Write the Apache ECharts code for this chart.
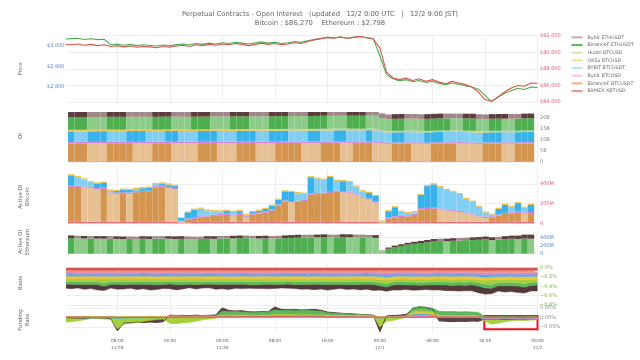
<!DOCTYPE html>
<html><head><meta charset="utf-8">
<script src="https://cdn.jsdelivr.net/npm/echarts@6/dist/echarts.min.js"></script>
<style>html,body{margin:0;padding:0;background:#fff}#c{width:640px;height:360px}</style>
</head><body><div id="c"></div>
<script>
// ---------------- DATA ----------------
const titleLine1 = 'Perpetual Contracts - Open Interest   (updated   12/2 0:00 UTC   |   12/2 9:00 JST)';
const titleLine2 = 'Bitcoin : $86,270    Ethereum : $2,798';
const exchanges = ['Bybit ETHUSDT','BinanceF ETHUSDT','Huobi BTCUSD','OKEx BTCUSD','BYBIT BTCUSDT','Bybit BTCUSD','BinanceF BTCUSDT','BitMEX XBTUSD'];
// time axis: hours since 11/29 00:00 UTC
const startTime = Date.UTC(2025, 10, 29, 0, 0);
const timeTicks = [8,16,24,32,40,48,56,64,72];
const timeTickLabels = ['08:00\n11/29','16:00','00:00\n11/30','08:00','16:00','00:00\n12/1','08:00','16:00','00:00\n12/2'];
const axisStartHour = 0.35, axisEndHour = 72;

// Price (hourly, 73 points)
const ethPrice = [3032,3034,3036,3030,3033,3029,3031,3004,3008,3002,3006,3000,3004,
 3001,2998,3003,2999,3005,3008,3004,3010,3006,3012,3008,3014,
 3010,3016,3012,3008,3014,3018,3012,3016,3010,3014,3020,3016,
 3024,3030,3034,3040,3038,3042,3036,3040,3044,3038,3034,
 2950,2860,2840,
 2830,2836,2826,2832,2822,2828,2818,2812,2820,2814,
 2806,2800,2790,2760,2730,
 2752,2770,2782,2794,2788,2800,2798];
const btcPrice = [90950,90900,91000,90850,90950,90800,90900,90700,90800,90650,90750,90600,90700,
 90650,90550,90700,90600,90750,90850,90700,90900,90800,90950,90850,91000,
 90900,91050,90950,90800,90950,91100,90950,91050,90900,91000,91150,91050,
 91300,91500,91650,91800,91700,91850,91700,91800,91900,91750,91600,
 90500,87600,86900,
 86700,86900,86600,86800,86500,86700,86400,86200,86500,86300,
 86100,85800,85200,84300,84100,
 84600,85200,85700,86000,85900,86300,86270];

// Open interest, billions USD (hourly bars, 72)
const oiBitmex = [0.30,0.31,0.30,0.29,0.30,0.31,0.32,0.31,0.30,0.30,0.31,0.32,0.31,0.30,0.29,0.30,0.31,0.30,0.31,0.32,0.31,0.30,0.31,0.30,
 0.31,0.32,0.31,0.30,0.31,0.32,0.33,0.32,0.31,0.32,0.33,0.32,0.31,0.32,0.33,0.34,0.33,0.32,0.33,0.34,0.33,0.32,0.33,0.32,
 0.30,0.28,0.29,0.28,0.29,0.30,0.29,0.28,0.29,0.30,0.29,0.30,0.31,0.30,0.29,0.27,0.28,0.29,0.28,0.29,0.30,0.29,0.30,0.29];
const oiBinanceBtc = [8.10,8.12,8.15,8.14,8.12,8.11,8.13,8.16,8.18,8.19,8.17,8.15,8.14,8.16,8.19,8.21,8.20,8.18,8.17,8.16,8.19,8.22,8.24,8.23,
 8.21,8.20,8.22,8.25,8.27,8.26,8.24,8.23,8.25,8.28,8.30,8.32,8.31,8.29,8.27,8.30,8.33,8.35,8.34,8.32,8.34,8.37,8.39,8.36,
 8.05,7.92,7.94,7.97,7.99,7.98,7.95,7.93,7.96,7.99,8.02,8.04,8.03,8.01,7.98,7.90,7.93,7.96,7.99,7.98,7.96,7.99,8.02,8.05];
const oiBybitBtcusd = [0.65,0.66,0.65,0.64,0.65,0.66,0.67,0.66,0.65,0.64,0.65,0.66,0.65,0.66,0.67,0.66,0.65,0.64,0.65,0.66,0.65,0.64,0.65,0.66,
 0.66,0.67,0.66,0.65,0.66,0.67,0.68,0.67,0.66,0.67,0.68,0.67,0.66,0.67,0.68,0.69,0.68,0.67,0.68,0.69,0.68,0.67,0.68,0.67,
 0.62,0.60,0.61,0.60,0.61,0.62,0.61,0.60,0.61,0.62,0.61,0.62,0.63,0.62,0.61,0.59,0.60,0.61,0.60,0.61,0.62,0.61,0.62,0.61];
const oiBybitUsdt = [4.80,4.78,4.76,4.79,4.82,4.84,4.83,4.81,4.79,4.82,4.85,4.86,4.84,4.82,4.81,4.84,4.87,4.86,4.83,4.81,4.84,4.86,4.88,4.87,
 4.85,4.83,4.86,4.89,4.90,4.88,4.86,4.89,4.91,4.93,4.92,4.90,4.88,4.91,4.94,4.93,4.91,4.94,4.96,4.95,4.93,4.91,4.94,4.92,
 4.62,4.55,4.57,4.60,4.59,4.57,4.55,4.58,4.61,4.63,4.62,4.60,4.58,4.56,4.54,4.50,4.53,4.56,4.58,4.57,4.55,4.58,4.61,4.63];
const oiOkex = [0.55,0.56,0.55,0.54,0.55,0.56,0.57,0.56,0.55,0.54,0.55,0.56,0.55,0.56,0.57,0.56,0.55,0.54,0.55,0.56,0.55,0.54,0.55,0.56,
 0.56,0.57,0.56,0.55,0.56,0.57,0.58,0.57,0.56,0.57,0.58,0.57,0.56,0.57,0.58,0.59,0.58,0.57,0.58,0.59,0.58,0.57,0.58,0.57,
 0.52,0.50,0.51,0.50,0.51,0.52,0.51,0.50,0.51,0.52,0.51,0.52,0.53,0.52,0.51,0.49,0.50,0.51,0.50,0.51,0.52,0.51,0.52,0.51];
const oiHuobi = [0.15,0.15,0.16,0.15,0.14,0.15,0.15,0.16,0.15,0.15,0.14,0.15,0.16,0.15,0.15,0.14,0.15,0.16,0.15,0.15,0.14,0.15,0.15,0.16,
 0.15,0.16,0.15,0.15,0.16,0.15,0.16,0.16,0.15,0.16,0.16,0.15,0.16,0.16,0.17,0.16,0.16,0.17,0.16,0.16,0.17,0.16,0.16,0.17,
 0.14,0.13,0.14,0.13,0.14,0.14,0.13,0.14,0.14,0.13,0.14,0.14,0.15,0.14,0.14,0.13,0.14,0.14,0.13,0.14,0.14,0.13,0.14,0.14];
const oiBinanceEth = [5.70,5.73,5.75,5.74,5.71,5.69,5.72,5.75,5.77,5.76,5.73,5.71,5.70,5.73,5.76,5.78,5.77,5.74,5.72,5.75,5.78,5.80,5.79,5.76,
 5.74,5.77,5.80,5.82,5.81,5.78,5.76,5.79,5.82,5.84,5.83,5.80,5.78,5.81,5.84,5.87,5.86,5.84,5.82,5.85,5.88,5.90,5.89,5.86,
 5.52,5.40,5.43,5.46,5.45,5.43,5.41,5.44,5.47,5.50,5.52,5.51,5.49,5.53,5.57,5.55,5.42,5.45,5.48,5.47,5.45,5.48,5.51,5.53];
const oiBybitEth = [2.30,2.32,2.34,2.33,2.31,2.29,2.31,2.33,2.35,2.34,2.32,2.30,2.29,2.31,2.33,2.35,2.34,2.32,2.30,2.32,2.34,2.36,2.35,2.33,
 2.31,2.33,2.35,2.37,2.36,2.34,2.32,2.34,2.36,2.38,2.37,2.35,2.33,2.35,2.37,2.39,2.38,2.36,2.34,2.36,2.38,2.40,2.39,2.37,
 2.18,2.10,2.12,2.14,2.13,2.11,2.09,2.11,2.13,2.15,2.14,2.12,2.10,2.12,2.14,2.13,2.06,2.08,2.10,2.12,2.11,2.09,2.11,2.13];

// Active OI Bitcoin, millions USD (hourly bars, 72)
const actBitmex = [15,15,14,15,16,15,14,15,15,16,15,14,15,15,16,15,14,8,10,15,15,14,15,16,
 15,14,15,15,16,15,14,15,15,16,15,14,15,15,16,15,14,15,15,16,15,14,15,15,
 5,12,15,14,15,15,16,15,14,15,15,16,15,14,15,15,16,15,14,15,15,16,15,14];
const actBinanceBtc = [355,355,350,345,330,335,290,285,290,285,300,305,305,350,355,345,335,12,30,30,45,55,60,65,
 70,65,70,45,70,85,95,115,165,205,200,205,210,275,280,285,295,305,300,295,275,245,225,195,
 10,35,45,50,55,70,125,130,135,125,115,105,100,85,75,55,40,45,65,80,85,90,85,90];
const actBybitBtcusd = [12,12,11,12,13,12,11,12,12,13,12,11,12,12,13,12,11,5,8,12,12,11,12,13,
 12,11,12,12,13,12,11,12,12,13,12,11,12,12,13,12,11,12,12,13,12,11,12,12,
 4,10,12,11,12,12,13,12,11,12,12,13,12,11,12,12,13,12,11,12,12,13,12,11];
const actBybitUsdt = [106,86,71,46,46,51,16,16,26,26,21,26,31,21,21,21,21,30,64,81,76,51,36,26,
 31,26,26,11,16,16,26,36,46,91,91,76,61,166,146,131,151,101,101,96,71,56,56,56,
 7,66,91,41,21,16,136,221,236,216,196,186,171,136,116,86,41,16,56,81,56,86,46,71];
const actOkex = [12,13,12,11,12,12,13,12,11,12,12,13,12,11,12,13,12,5,8,12,11,12,12,13,
 12,12,13,12,11,12,12,13,12,11,12,12,13,12,11,12,12,13,12,11,12,12,13,12,
 4,11,12,12,13,12,11,12,12,13,12,11,12,12,13,12,11,12,12,13,12,11,12,12];

// Active OI Ethereum, millions USD (hourly bars, 72)
const actBinanceEth = [380,375,370,372,368,365,370,360,355,362,358,365,360,368,372,365,360,362,358,355,360,365,362,370,
 375,372,378,380,375,370,372,368,375,380,385,390,395,400,398,402,395,400,405,400,395,398,390,385,
 60,120,160,190,220,240,260,280,300,310,305,315,320,330,335,340,350,330,345,355,365,360,370,365];
const actBybitEth = [65,60,62,58,60,63,59,62,64,60,58,61,63,60,57,60,62,65,63,60,58,61,64,62,
 60,63,65,62,60,64,66,63,61,65,68,70,66,64,67,70,68,65,69,72,70,67,65,68,
 20,30,35,40,45,50,52,55,58,56,60,62,60,58,62,65,68,70,66,72,75,80,95,100];

// Basis, in 0.01% units (hourly, 73)
const basisBitmex = [-6.2,-6.0,-6.3,-6.1,-6.4,-6.2,-6.0,-6.3,-6.1,-6.2,
 -6.4,-6.1,-6.0,-6.2,-6.3,-6.1,-6.2,-6.0,-6.3,-6.2,
 -6.1,-6.4,-6.2,-6.0,-6.3,-6.1,-6.2,-6.0,-6.3,-6.1,
 -6.2,-6.4,-6.1,-6.0,-6.2,-6.3,-6.1,-6.2,-6.0,-6.3,
 -6.2,-6.1,-6.4,-6.2,-6.0,-6.3,-6.1,-6.2,-5.8,-6.5,
 -6.2,-6.0,-6.3,-6.1,-6.2,-6.4,-6.1,-6.0,-6.2,-6.3,
 -6.1,-6.2,-6.0,-6.3,-6.6,-6.4,-6.2,-6.3,-6.1,-6.2,
 -6.4,-6.1,-6.2];
const basisBinanceBtc = [-3.6,-3.5,-3.7,-3.6,-3.4,-3.6,-3.8,-3.5,-3.6,-3.7,
 -3.5,-3.6,-3.4,-3.6,-3.7,-3.5,-3.6,-3.8,-3.6,-3.5,
 -3.7,-3.6,-3.4,-3.6,-3.5,-3.7,-3.6,-3.5,-3.6,-3.8,
 -3.6,-3.5,-3.7,-3.6,-3.4,-3.6,-3.5,-3.7,-3.6,-3.5,
 -3.6,-3.8,-3.6,-3.5,-3.7,-3.6,-3.4,-3.6,-3.9,-4.2,
 -3.7,-3.6,-3.5,-3.7,-3.6,-3.8,-3.6,-3.5,-3.7,-3.6,
 -3.5,-3.7,-3.6,-3.8,-4.0,-3.9,-3.7,-3.8,-3.6,-3.9,
 -3.8,-3.7,-3.6];
const basisBybitBtcusd = [-4.3,-4.2,-4.4,-4.3,-4.1,-4.3,-4.5,-4.2,-4.3,-4.4,
 -4.2,-4.3,-4.1,-4.3,-4.4,-4.2,-4.3,-4.5,-4.3,-4.2,
 -4.4,-4.3,-4.1,-4.3,-4.2,-4.4,-4.3,-4.2,-4.3,-4.5,
 -4.3,-4.2,-4.4,-4.3,-4.1,-4.3,-4.2,-4.4,-4.3,-4.2,
 -4.3,-4.5,-4.3,-4.2,-4.4,-4.3,-4.1,-4.3,-4.6,-4.9,
 -4.4,-4.3,-4.2,-4.4,-4.3,-4.5,-4.3,-4.2,-4.4,-4.3,
 -4.2,-4.4,-4.3,-4.5,-4.8,-4.6,-4.4,-4.5,-4.3,-4.6,
 -4.5,-4.4,-4.3];
const basisBybitUsdt = [-4.4,-4.3,-4.2,-4.4,-4.3,-4.5,-4.3,-4.2,-4.4,-4.3,
 -4.3,-4.5,-4.3,-4.2,-4.4,-4.3,-4.1,-4.3,-4.4,-4.3,
 -4.2,-4.3,-4.4,-4.2,-4.3,-4.5,-4.3,-4.2,-4.4,-4.3,
 -4.1,-4.3,-4.4,-4.3,-4.2,-4.4,-4.3,-4.5,-4.3,-4.2,
 -4.4,-4.3,-4.2,-4.4,-4.3,-4.2,-4.4,-4.3,-4.7,-5.0,
 -4.5,-4.4,-4.3,-4.5,-4.4,-4.3,-4.5,-4.4,-4.3,-4.5,
 -4.4,-4.3,-4.5,-4.6,-4.9,-4.7,-4.5,-4.6,-4.4,-4.7,
 -4.6,-4.5,-4.4];
const basisOkex = [-5.7,-5.9,-5.6,-5.8,-6.0,-5.7,-5.5,-5.8,-5.9,-5.6,
 -5.7,-5.9,-5.8,-5.6,-5.7,-6.0,-5.8,-5.6,-5.7,-5.9,
 -5.8,-5.6,-5.7,-5.9,-5.8,-5.6,-5.5,-5.7,-5.9,-5.8,
 -5.6,-5.7,-5.9,-5.8,-5.6,-5.7,-5.9,-5.8,-5.6,-5.7,
 -5.9,-5.8,-5.6,-5.7,-5.9,-5.8,-5.6,-5.8,-6.2,-6.6,
 -6.0,-5.8,-5.9,-6.1,-5.9,-5.8,-6.0,-6.1,-5.9,-6.0,
 -6.2,-6.0,-6.1,-6.3,-6.8,-6.5,-6.2,-6.4,-6.1,-6.5,
 -6.3,-6.1,-6.0];
const basisHuobi = [-5.5,-6.0,-5.4,-6.2,-5.8,-6.5,-9.5,-6.0,-5.6,-6.3,
 -5.9,-5.4,-6.1,-5.7,-6.4,-5.8,-5.5,-6.2,-5.9,-5.6,
 -6.3,-5.7,-5.4,-6.0,-5.8,-5.3,-6.1,-5.6,-5.9,-6.4,
 -5.8,-5.5,-6.2,-5.9,-5.6,-6.0,-5.4,-5.8,-6.3,-5.7,
 -5.5,-6.1,-5.8,-6.4,-5.9,-5.6,-6.2,-5.8,-6.6,-7.0,
 -6.1,-5.8,-6.4,-6.0,-6.7,-6.2,-5.9,-6.5,-6.1,-6.8,
 -6.3,-6.6,-6.0,-6.9,-8.5,-9.8,-6.8,-6.4,-7.1,-6.6,
 -8.8,-6.5,-6.3];
const basisBinanceEth = [-5.9,-5.6,-6.3,-5.8,-6.1,-5.5,-6.4,-6.0,-5.7,-6.2,
 -5.6,-6.1,-5.8,-6.5,-5.9,-6.2,-5.7,-6.0,-6.4,-5.8,
 -6.0,-5.5,-6.2,-5.7,-6.3,-6.0,-5.6,-6.1,-5.8,-6.2,
 -6.4,-5.9,-5.6,-6.2,-5.8,-6.1,-6.5,-5.9,-5.7,-6.3,
 -6.0,-5.7,-6.3,-5.9,-6.4,-6.1,-5.8,-6.2,-6.8,-7.4,
 -6.4,-6.1,-6.6,-6.2,-6.8,-6.4,-6.0,-6.7,-6.3,-6.9,
 -6.5,-6.9,-6.3,-7.0,-7.8,-8.2,-7.0,-6.7,-7.3,-6.9,
 -7.5,-6.8,-6.6];
const basisBybitEth = [-8.0,-9.5,-7.5,-10.2,-8.8,-11.5,-9.0,-7.8,-10.5,-9.2,
 -8.4,-10.8,-9.5,-12.0,-10.2,-8.6,-9.8,-11.2,-8.9,-7.6,
 -9.4,-8.2,-7.8,-10.5,-9.1,-11.0,-8.5,-9.6,-8.0,-7.4,
 -8.8,-9.8,-8.2,-7.5,-9.0,-8.4,-10.2,-9.5,-11.4,-10.0,
 -12.2,-9.8,-8.6,-10.5,-9.2,-11.8,-10.4,-12.6,-9.5,-8.8,
 -10.8,-12.0,-9.6,-11.2,-10.0,-9.4,-11.6,-10.2,-12.4,-11.0,
 -13.0,-11.5,-12.8,-14.5,-13.2,-12.0,-11.4,-13.6,-12.2,-14.0,
 -12.6,-11.8,-12.4];

// Funding rate, % (hourly, 73)
const fundBybitEth = [0.000,-0.002,-0.003,-0.004,-0.003,-0.005,-0.004,-0.006,
 -0.070,
 -0.030,-0.028,-0.025,-0.027,-0.024,-0.026,-0.022,
 0.012,0.010,0.011,0.009,0.012,0.010,0.011,0.013,
 0.050,
 0.036,0.034,0.035,0.030,0.029,0.031,0.030,
 0.055,
 0.042,0.040,0.041,0.039,0.040,0.042,0.038,
 0.028,0.025,0.022,0.020,0.018,0.016,0.014,0.012,
 -0.075,
 0.008,0.010,0.012,0.015,
 0.048,0.055,0.052,0.045,
 -0.018,-0.020,-0.022,-0.020,-0.021,-0.019,-0.020,
 -0.008,-0.010,-0.009,-0.011,-0.010,-0.008,-0.009,-0.007,-0.008];
const fundBinanceEth = [0.004,0.005,0.004,0.006,0.005,0.004,0.005,0.006,0.003,0.004,0.005,0.004,0.005,0.006,0.005,0.004,
 0.008,0.009,0.008,0.007,0.008,0.009,0.008,0.010,
 0.032,0.030,0.031,0.028,0.027,0.029,0.028,0.030,
 0.038,0.036,0.037,0.035,0.036,0.037,0.034,0.033,
 0.024,0.022,0.020,0.019,0.017,0.015,0.013,0.011,
 0.002,0.004,0.005,0.006,0.008,
 0.050,0.056,0.054,0.048,
 0.032,0.030,0.031,0.029,0.030,0.028,0.026,
 0.004,0.003,0.004,0.005,0.004,0.003,0.004,0.005,0.004];
const fundHuobi = [-0.025,-0.022,-0.018,-0.012,-0.006,-0.005,-0.008,-0.010,
 -0.060,
 -0.035,-0.030,-0.028,-0.020,-0.015,-0.010,-0.008,
 -0.030,-0.032,-0.028,-0.025,-0.020,-0.012,-0.008,-0.004,
 0.010,0.012,0.011,0.013,0.012,0.010,0.011,0.012,
 0.015,0.014,0.016,0.015,0.013,0.014,0.012,0.013,
 0.012,0.010,0.011,0.009,0.010,0.012,0.011,0.010,
 -0.050,
 -0.020,-0.015,-0.008,0.002,
 0.032,0.036,0.034,0.030,
 0.012,0.010,0.011,0.009,0.010,0.011,0.008,
 -0.020,-0.035,-0.030,-0.022,-0.018,-0.015,-0.016,-0.014,-0.012];
const fundOkex = [0.004,0.005,0.004,0.003,0.004,0.005,0.004,0.003,0.002,0.003,0.004,0.003,0.004,0.005,0.004,0.003,0.006,0.007,0.006,0.005,0.006,0.007,0.006,0.005,
 0.010,0.011,0.010,0.009,0.010,0.011,0.010,0.009,0.012,0.011,0.012,0.010,0.011,0.012,0.010,0.011,0.009,0.008,0.009,0.008,0.007,0.008,0.007,0.006,
 0.000,0.003,0.004,0.005,0.006,0.022,0.026,0.025,0.021,0.008,0.007,0.008,0.006,0.007,0.008,0.006,-0.004,-0.006,-0.005,-0.004,-0.005,-0.003,-0.004,-0.005,-0.004];
const fundBybitUsdt = [0.002,0.001,0.000,-0.002,-0.003,-0.002,-0.001,-0.002,-0.004,-0.003,-0.002,-0.003,-0.002,-0.001,-0.002,-0.001,0.003,0.004,0.003,0.002,0.003,0.004,0.003,0.002,
 0.006,0.007,0.006,0.005,0.006,0.007,0.006,0.005,0.008,0.007,0.008,0.006,0.007,0.008,0.006,0.007,0.005,0.004,0.005,0.004,0.003,0.004,0.003,0.002,
 -0.002,0.001,0.002,0.003,0.004,0.014,0.016,0.015,0.012,0.004,0.003,0.004,0.002,0.003,0.004,0.002,-0.008,-0.010,-0.009,-0.008,-0.009,-0.007,-0.008,-0.009,-0.008];
const fundBybitBtcusd = [0.003,0.002,0.003,0.001,0.000,0.001,0.002,0.001,-0.002,-0.001,0.000,-0.001,0.000,0.001,0.000,0.001,0.004,0.005,0.004,0.003,0.004,0.005,0.004,0.003,
 0.005,0.006,0.005,0.004,0.005,0.006,0.005,0.004,0.007,0.006,0.007,0.005,0.006,0.007,0.005,0.006,0.004,0.003,0.004,0.003,0.002,0.003,0.002,0.001,
 -0.004,0.000,0.001,0.002,0.003,0.010,0.012,0.011,0.009,0.003,0.002,0.003,0.001,0.002,0.003,0.001,-0.005,-0.006,-0.005,-0.004,-0.005,-0.004,-0.005,-0.006,-0.005];
const fundBinanceBtc = [0.004,0.004,0.003,0.003,0.002,0.003,0.003,0.002,0.000,0.001,0.002,0.001,0.002,0.002,0.001,0.002,0.005,0.005,0.004,0.004,0.005,0.005,0.004,0.004,
 0.006,0.006,0.005,0.005,0.006,0.006,0.005,0.005,0.007,0.007,0.006,0.006,0.007,0.007,0.006,0.006,0.005,0.005,0.004,0.004,0.004,0.003,0.003,0.003,
 0.001,0.002,0.002,0.003,0.003,0.008,0.009,0.009,0.007,0.004,0.004,0.003,0.003,0.004,0.003,0.003,0.001,0.000,0.001,0.000,0.001,0.000,0.001,0.000,0.001];
const fundBitmex = [0.001,0.001,0.001,0.001,0.001,0.001,0.001,0.001,0.000,0.000,0.000,0.000,0.000,0.000,0.000,0.000,0.001,0.001,0.001,0.001,0.001,0.001,0.001,0.001,
 0.004,0.004,0.004,0.005,0.005,0.005,0.005,0.005,0.006,0.006,0.006,0.006,0.006,0.006,0.006,0.006,0.003,0.003,0.003,0.003,0.003,0.003,0.003,0.003,
 0.001,0.001,0.001,0.001,0.001,0.001,0.001,0.001,0.002,0.002,0.002,0.002,0.002,0.002,0.002,0.002,0.000,0.000,0.000,0.000,0.000,0.000,0.000,0.000,0.000];

// highlighted funding region (hours, %)
const highlightBox = {from: 63.9, to: 72, top: 0.007, bottom: -0.062};

// ---------------- STYLE ----------------
const FONT = 'DejaVu Sans';
const C = {
  'Bybit ETHUSDT':    {dark:'#5b3d3c', light:'#a08787', line:'#55393a', legend:'#c9b3b3'},
  'BinanceF ETHUSDT': {dark:'#4fae4f', light:'#8dcb89', line:'#5cb85c', legend:'#5fba5f'},
  'Huobi BTCUSD':     {dark:'#b5d98a', light:'#b5d98a', line:'#a4d03c', legend:'#d6e9b8'},
  'OKEx BTCUSD':      {dark:'#efc34a', light:'#efc34a', line:'#f2c037', legend:'#fbe0a2'},
  'BYBIT BTCUSDT':    {dark:'#38b2ea', light:'#80cff3', line:'#3fb0ef', legend:'#bfe5fa'},
  'Bybit BTCUSD':     {dark:'#cf7fd6', light:'#cf7fd6', line:'#d77fdc', legend:'#efc8f1'},
  'BinanceF BTCUSDT': {dark:'#d39550', light:'#e7c094', line:'#ef9a5e', legend:'#f2b888'},
  'BitMEX XBTUSD':    {dark:'#e06a78', light:'#e06a78', line:'#d9534f', legend:'#e99a9a'}
};

// ---------------- BUILD ----------------
const HOUR = 3600000;
const tOf = h => startTime + h * HOUR;
const warn = [];
function chk(name, arr, n){ if(arr.length!==n) warn.push(name+':'+arr.length); }
[['eth',ethPrice],['btc',btcPrice],['b1',basisBitmex],['b2',basisBinanceBtc],['b3',basisBybitBtcusd],['b4',basisBybitUsdt],['b5',basisOkex],['b6',basisHuobi],['b7',basisBinanceEth],['b8',basisBybitEth],
 ['f1',fundBybitEth],['f2',fundBinanceEth],['f3',fundHuobi],['f4',fundOkex],['f5',fundBybitUsdt],['f6',fundBybitBtcusd],['f7',fundBinanceBtc],['f8',fundBitmex]].forEach(a=>chk(a[0],a[1],73));
[['o1',oiBitmex],['o2',oiBinanceBtc],['o3',oiBybitBtcusd],['o4',oiBybitUsdt],['o5',oiOkex],['o6',oiHuobi],['o7',oiBinanceEth],['o8',oiBybitEth],
 ['a1',actBitmex],['a2',actBinanceBtc],['a3',actBybitBtcusd],['a4',actBybitUsdt],['a5',actOkex],['e1',actBinanceEth],['e2',actBybitEth]].forEach(a=>chk(a[0],a[1],72));

const lineData = (arr, k=1) => arr.map((v,i)=>[tOf(i), v*k]);
function barData(arr, name){
  const c = C[name];
  return arr.map((v,i)=>({value:[tOf(i+0.5), v], itemStyle:{color: (i>0 && v < arr[i-1]) ? c.light : c.dark}}));
}

const grids = [
  {top:35.7, height:66.3},
  {top:112, height:50},
  {top:170, height:53.3},
  {top:231, height:22.7},
  {top:263, height:42},
  {top:306, height:26.3}
].map(g=>Object.assign({left:67, right:102.5, containLabel:false}, g));

// time axes carry the data (hidden); value axes (hours) draw the grid lines and labels
const xAxes = [];
grids.forEach((g,i)=>xAxes.push({
  type:'time', gridIndex:i, position:'top', min:tOf(axisStartHour), max:tOf(axisEndHour),
  axisLine:{show:false}, axisTick:{show:false}, splitLine:{show:false}, axisLabel:{show:false}
}));
grids.forEach((g,i)=>xAxes.push({
  type:'value', gridIndex:i, position:'bottom', min:axisStartHour, max:axisEndHour,
  axisLine:{show:false},
  axisTick:{show:false, customValues:timeTicks},
  splitLine:{show:true, lineStyle:{color:'#eeeeee', width:1}},
  axisLabel:{show: i===5, customValues:timeTicks, fontFamily:FONT, fontSize:4.3, lineHeight:6.7, color:'#666', margin:5.5,
    formatter:(v)=>{const k=timeTicks.indexOf(Math.round(v)); return k>=0?timeTickLabels[k]:'';}}
}));

function yAx(gi, pos, min, max, ticks, fmt, color, split){
  return {type:'value', gridIndex:gi, position:pos, min:min, max:max,
    axisLine:{show:false}, axisTick:{show:false, customValues:ticks},
    splitLine:{show:split, lineStyle:{color:'#eeeeee'}},
    axisLabel:{customValues:ticks, formatter:fmt, color:color, fontFamily:FONT, fontSize:5, margin:2.5}};
}
const usd = v => '$' + Math.round(v).toLocaleString('en-US');
const yAxes = [
  yAx(0,'left',2728,3048,[2800,2900,3000],usd,'#5b7fd3',false),
  yAx(0,'right',84000,92000,[84000,86000,88000,90000,92000],usd,'#e05a6a',true),
  yAx(1,'right',0,22.57,[0,5,10,15,20],v=>v===0?'0':v+'B','#888',true),
  yAx(2,'right',0,542,[0,200,400],v=>v===0?'0':v+'M','#e05a6a',true),
  yAx(3,'right',0,553,[0,200,400],v=>v===0?'0':v+'M','#5b7fd3',true),
  yAx(4,'right',-0.8,0.1,[-0.8,-0.6,-0.4,-0.2,0],v=>Math.abs(v)<1e-9?'0.0%':'\u2212'+Math.abs(v).toFixed(1)+'%','#7cb342',true),
  yAx(5,'right',-0.078,0.06,[-0.05,0,0.05],v=>Math.abs(v)<1e-9?'0.00%':(v<0?'\u2212':'')+Math.abs(v).toFixed(2)+'%','#888',true)
];

const series = [];
series.push({type:'line', name:'BinanceF ETHUSDT', xAxisIndex:0, yAxisIndex:0, data:lineData(ethPrice), showSymbol:false, symbol:'none',
  lineStyle:{width:1.1, color:'#4cae4c'}, itemStyle:{color:'#4cae4c'}});
series.push({type:'line', name:'BitMEX XBTUSD', xAxisIndex:0, yAxisIndex:1, data:lineData(btcPrice), showSymbol:false, symbol:'none',
  lineStyle:{width:1.1, color:'#d9534f'}, itemStyle:{color:'#d9534f'}});

const oiStack = [['BitMEX XBTUSD',oiBitmex],['BinanceF BTCUSDT',oiBinanceBtc],['Bybit BTCUSD',oiBybitBtcusd],['BYBIT BTCUSDT',oiBybitUsdt],
  ['OKEx BTCUSD',oiOkex],['Huobi BTCUSD',oiHuobi],['BinanceF ETHUSDT',oiBinanceEth],['Bybit ETHUSDT',oiBybitEth]];
oiStack.forEach(([n,arr])=>series.push({type:'bar', name:n, xAxisIndex:1, yAxisIndex:2, stack:'oi', barWidth:'100%',
  data:barData(arr,n), itemStyle:{color:C[n].dark}}));

const actStack = [['BitMEX XBTUSD',actBitmex],['BinanceF BTCUSDT',actBinanceBtc],['Bybit BTCUSD',actBybitBtcusd],['BYBIT BTCUSDT',actBybitUsdt],['OKEx BTCUSD',actOkex]];
actStack.forEach(([n,arr])=>series.push({type:'bar', name:n, xAxisIndex:2, yAxisIndex:3, stack:'abtc', barWidth:'100%',
  data:barData(arr,n), itemStyle:{color:C[n].dark}}));

const ethStack = [['BinanceF ETHUSDT',actBinanceEth],['Bybit ETHUSDT',actBybitEth]];
ethStack.forEach(([n,arr])=>series.push({type:'bar', name:n, xAxisIndex:3, yAxisIndex:4, stack:'aeth', barWidth:'100%',
  data:barData(arr,n), itemStyle:{color:C[n].dark}}));

const basisStack = [['BitMEX XBTUSD',basisBitmex],['BinanceF BTCUSDT',basisBinanceBtc],['Bybit BTCUSD',basisBybitBtcusd],['BYBIT BTCUSDT',basisBybitUsdt],
  ['OKEx BTCUSD',basisOkex],['Huobi BTCUSD',basisHuobi],['BinanceF ETHUSDT',basisBinanceEth],['Bybit ETHUSDT',basisBybitEth]];
basisStack.forEach(([n,arr])=>series.push({type:'line', name:n, xAxisIndex:4, yAxisIndex:5, stack:'basis', data:lineData(arr,0.01),
  showSymbol:false, symbol:'none', lineStyle:{width:0.5, color:C[n].line}, areaStyle:{color:C[n].line, opacity:1}, itemStyle:{color:C[n].line}}));

const fundOrder = [['Bybit ETHUSDT',fundBybitEth,true],['BinanceF ETHUSDT',fundBinanceEth,true],['Huobi BTCUSD',fundHuobi,true],['OKEx BTCUSD',fundOkex,true],
  ['BYBIT BTCUSDT',fundBybitUsdt,true],['Bybit BTCUSD',fundBybitBtcusd,true],['BinanceF BTCUSDT',fundBinanceBtc,false],['BitMEX XBTUSD',fundBitmex,false]];
fundOrder.forEach(([n,arr,area])=>{
  const s = {type:'line', name:n, xAxisIndex:5, yAxisIndex:6, data:lineData(arr), showSymbol:false, symbol:'none',
    lineStyle:{width: n==='Bybit ETHUSDT'?1.0:0.8, color:C[n].line}, itemStyle:{color:C[n].line}};
  if(area) s.areaStyle = {color:C[n].line, opacity: n==='Bybit ETHUSDT'?0.95:1};
  series.push(s);
});
series.push({type:'line', xAxisIndex:5, yAxisIndex:6, data:[], z:20, silent:true,
  markArea:{silent:true, itemStyle:{color:'rgba(0,0,0,0)', borderColor:'#e8141e', borderWidth:2},
    data:[[{xAxis:tOf(highlightBox.from), yAxis:highlightBox.top},{xAxis:tOf(highlightBox.to), yAxis:highlightBox.bottom}]]}});

const nameStyle = {fontFamily:FONT, fontSize:5.4, fill:'#666', align:'center', verticalAlign:'middle', lineHeight:7.3};
const panelNames = [['Price',21,69],['OI',21,136],['Active OI\nBitcoin',24.3,196.7],['Active OI\nEthereum',24.3,242],['Basis',21,283],['Funding\nRate',24.3,320]];
const graphic = panelNames.map(([t,x,y])=>({type:'text', x:x, y:y, rotation:Math.PI/2, style:Object.assign({text:t}, nameStyle)}));
if (warn.length) graphic.push({type:'text', left:5, top:5, style:{text:'LEN '+warn.join(' '), fill:'red', fontSize:9}});

const chart = echarts.init(document.getElementById('c'), null, {renderer:'canvas'});
chart.setOption({
  animation:false,
  backgroundColor:'#fff',
  title:{text:titleLine1+'\n'+titleLine2, left:'center', top:9.4, padding:0,
    textStyle:{fontFamily:FONT, fontSize:6.8, fontWeight:'normal', color:'#666', lineHeight:9.3}},
  legend:{orient:'vertical', left:571.5, top:33.5, padding:0, itemWidth:11, itemHeight:2.2, itemGap:0, icon:'rect',
    textStyle:{fontFamily:FONT, fontSize:4.8, color:'#666', lineHeight:7.67},
    data: exchanges.map(n=>({name:n, itemStyle:{color:C[n].legend}}))},
  grid:grids, xAxis:xAxes, yAxis:yAxes, series:series, graphic:graphic
});
</script></body></html>
